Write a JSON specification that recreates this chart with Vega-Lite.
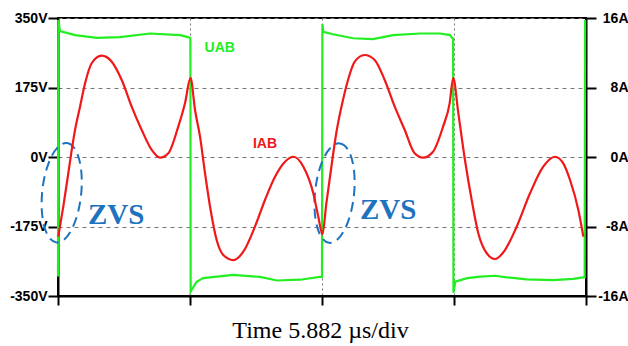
{
  "$schema": "https://vega.github.io/schema/vega-lite/v6.json",
  "width": 528,
  "height": 278,
  "autosize": {"type": "none"},
  "padding": {"left": 58, "top": 18, "right": 42, "bottom": 50},
  "background": "white",
  "config": {"view": {"stroke": "black", "strokeWidth": 2}},
  "datasets": {
    "uab": [
      {"t": 0.0, "V": -301}, {"t": 0.002, "V": 345}, {"t": 0.015, "V": 317}, {"t": 0.13, "V": 307},
      {"t": 0.295, "V": 300}, {"t": 0.47, "V": 302}, {"t": 0.697, "V": 311}, {"t": 0.924, "V": 307},
      {"t": 0.985, "V": 302}, {"t": 1.003, "V": 299}, {"t": 1.005, "V": -339}, {"t": 1.05, "V": -314},
      {"t": 1.1, "V": -305}, {"t": 1.326, "V": -297}, {"t": 1.53, "V": -302}, {"t": 1.66, "V": -311},
      {"t": 1.833, "V": -309}, {"t": 1.985, "V": -302}, {"t": 2.0, "V": -302}, {"t": 2.003, "V": 335},
      {"t": 2.01, "V": 315}, {"t": 2.083, "V": 309}, {"t": 2.235, "V": 299}, {"t": 2.386, "V": 297},
      {"t": 2.538, "V": 307}, {"t": 2.742, "V": 311}, {"t": 2.894, "V": 311}, {"t": 2.97, "V": 307},
      {"t": 2.985, "V": 300}, {"t": 2.993, "V": 298}, {"t": 2.996, "V": -342}, {"t": 3.01, "V": -314},
      {"t": 3.1, "V": -305}, {"t": 3.2, "V": -301}, {"t": 3.311, "V": -299}, {"t": 3.4, "V": -303},
      {"t": 3.55, "V": -308}, {"t": 3.75, "V": -310}, {"t": 3.902, "V": -307}, {"t": 3.977, "V": -303},
      {"t": 3.99, "V": -303}, {"t": 3.993, "V": 345}
    ],
    "iab": [
      {"t": 0.002, "I": -9.17}, {"t": 0.04, "I": -5.72}, {"t": 0.078, "I": -1.88}, {"t": 0.104, "I": 0.81},
      {"t": 0.129, "I": 3.11}, {"t": 0.167, "I": 5.79}, {"t": 0.205, "I": 8.48}, {"t": 0.255, "I": 10.79},
      {"t": 0.331, "I": 11.66}, {"t": 0.407, "I": 10.97}, {"t": 0.483, "I": 8.86}, {"t": 0.558, "I": 5.79},
      {"t": 0.634, "I": 3.11}, {"t": 0.71, "I": 0.81}, {"t": 0.773, "I": -0.08}, {"t": 0.836, "I": 0.43},
      {"t": 0.911, "I": 3.49}, {"t": 0.962, "I": 6.18}, {"t": 1.004, "I": 9.1},
      {"t": 1.038, "I": 5.41}, {"t": 1.076, "I": 2.34}, {"t": 1.114, "I": -1.88}, {"t": 1.152, "I": -5.72},
      {"t": 1.202, "I": -9.55}, {"t": 1.252, "I": -11.28}, {"t": 1.328, "I": -11.86}, {"t": 1.404, "I": -10.9},
      {"t": 1.492, "I": -8.02}, {"t": 1.568, "I": -4.95}, {"t": 1.644, "I": -2.27}, {"t": 1.72, "I": -0.54},
      {"t": 1.783, "I": 0.03}, {"t": 1.859, "I": -1.12}, {"t": 1.934, "I": -4.18}, {"t": 1.972, "I": -6.87},
      {"t": 2.003, "I": -8.9}, {"t": 2.033, "I": -5.33}, {"t": 2.071, "I": -1.12}, {"t": 2.108, "I": 2.73},
      {"t": 2.159, "I": 6.56}, {"t": 2.197, "I": 8.86}, {"t": 2.248, "I": 10.97}, {"t": 2.323, "I": 11.74},
      {"t": 2.399, "I": 11.17}, {"t": 2.475, "I": 8.86}, {"t": 2.551, "I": 5.79}, {"t": 2.627, "I": 3.11},
      {"t": 2.702, "I": 0.43}, {"t": 2.765, "I": -0.08}, {"t": 2.841, "I": 0.61}, {"t": 2.917, "I": 3.49},
      {"t": 2.967, "I": 6.18}, {"t": 2.994, "I": 9.1}, {"t": 3.033, "I": 5.03}, {"t": 3.083, "I": -0.35},
      {"t": 3.134, "I": -4.95}, {"t": 3.184, "I": -8.78}, {"t": 3.248, "I": -11.08}, {"t": 3.311, "I": -11.74},
      {"t": 3.386, "I": -10.71}, {"t": 3.475, "I": -8.02}, {"t": 3.576, "I": -4.18}, {"t": 3.676, "I": -1.12},
      {"t": 3.765, "I": 0.03}, {"t": 3.828, "I": -0.73}, {"t": 3.879, "I": -2.65}, {"t": 3.942, "I": -6.1},
      {"t": 3.98, "I": -9.17}
    ],
    "zvsRings": [{"t": 0.028, "V": -90}, {"t": 2.095, "V": -91}],
    "zvsText": [{"t": 0.227, "V": -168.7, "label": "ZVS"}, {"t": 2.288, "V": -155, "label": "ZVS"}],
    "uabLabel": [{"t": 1.11, "V": 264, "label": "UAB"}],
    "iabLabel": [{"t": 1.477, "V": 22.7, "label": "IAB"}]
  },
  "layer": [
    {
      "layer": [
        {
          "data": {"name": "uab"},
          "mark": {"type": "line", "color": "#22EE22", "strokeWidth": 2.2, "interpolate": "linear"},
          "encoding": {
            "x": {
              "field": "t", "type": "quantitative", "sort": null,
              "scale": {"domain": [0, 4], "nice": false, "zero": false},
              "axis": {
                "values": [0, 1, 2, 3, 4], "labels": false, "tickSize": 9, "tickWidth": 2, "tickColor": "black",
                "domainColor": "black", "domainWidth": 2,
                "grid": true, "gridDash": [2, 3], "gridColor": "#777", "gridWidth": 1,
                "title": "Time 5.882 µs/div", "titleFont": "Liberation Serif", "titleFontSize": 24,
                "titleFontWeight": "normal", "titleColor": "black", "titleBaseline": "alphabetic",
                "titleX": 262, "titleY": 41, "titleAnchor": "middle", "titleAlign": "center"
              }
            },
            "y": {
              "field": "V", "type": "quantitative",
              "scale": {"domain": [-350, 350], "nice": false, "zero": false},
              "axis": {
                "values": [-350, -175, 0, 175, 350], "labelExpr": "datum.value + 'V'",
                "tickSize": 10, "tickWidth": 2, "tickColor": "black", "domainColor": "black", "domainWidth": 2,
                "labelFont": "Liberation Sans", "labelFontSize": 14, "labelFontWeight": "bold", "labelColor": "black",
                "labelPadding": 1, "grid": true, "gridDash": [4, 4], "gridColor": "#777", "gridWidth": 1,
                "title": null
              }
            }
          }
        },
        {
          "data": {"name": "zvsRings"},
          "mark": {
            "type": "point", "shape": "M0,-1A0.39,1,0,1,1,0,1A0.39,1,0,1,1,0,-1Z",
            "filled": false, "stroke": "#1E73BE", "strokeWidth": 2, "strokeDash": [10, 6],
            "size": 10000, "angle": 6, "opacity": 1
          },
          "encoding": {
            "x": {"field": "t", "type": "quantitative"},
            "y": {"field": "V", "type": "quantitative"}
          }
        },
        {
          "data": {"name": "zvsText"},
          "mark": {"type": "text", "align": "left", "baseline": "alphabetic", "font": "Liberation Serif",
                   "fontSize": 29, "fontWeight": "bold", "color": "#1E73BE"},
          "encoding": {
            "x": {"field": "t", "type": "quantitative"},
            "y": {"field": "V", "type": "quantitative"},
            "text": {"field": "label"}
          }
        },
        {
          "data": {"name": "uabLabel"},
          "mark": {"type": "text", "align": "left", "baseline": "alphabetic", "font": "Liberation Sans",
                   "fontSize": 14, "fontWeight": "bold", "color": "#22EE22"},
          "encoding": {
            "x": {"field": "t", "type": "quantitative"},
            "y": {"field": "V", "type": "quantitative"},
            "text": {"field": "label"}
          }
        },
        {
          "data": {"name": "iabLabel"},
          "mark": {"type": "text", "align": "left", "baseline": "alphabetic", "font": "Liberation Sans",
                   "fontSize": 14, "fontWeight": "bold", "color": "#F01818"},
          "encoding": {
            "x": {"field": "t", "type": "quantitative"},
            "y": {"field": "V", "type": "quantitative"},
            "text": {"field": "label"}
          }
        }
      ]
    },
    {
      "data": {"name": "iab"},
      "mark": {"type": "line", "color": "#F01818", "strokeWidth": 2.2, "interpolate": "monotone"},
      "encoding": {
        "x": {"field": "t", "type": "quantitative"},
        "y": {
          "field": "I", "type": "quantitative",
          "scale": {"domain": [-16, 16], "nice": false, "zero": false},
          "axis": {
            "orient": "right", "values": [-16, -8, 0, 8, 16], "labelExpr": "datum.value + 'A'",
            "tickSize": 10, "tickWidth": 2, "tickColor": "black", "domainColor": "black", "domainWidth": 2,
            "labelFont": "Liberation Sans", "labelFontSize": 14, "labelFontWeight": "bold", "labelColor": "black",
            "labelAlign": "right", "labelPadding": 32, "grid": false, "title": null
          }
        }
      }
    }
  ],
  "resolve": {"scale": {"y": "independent"}, "axis": {"y": "independent"}}
}
